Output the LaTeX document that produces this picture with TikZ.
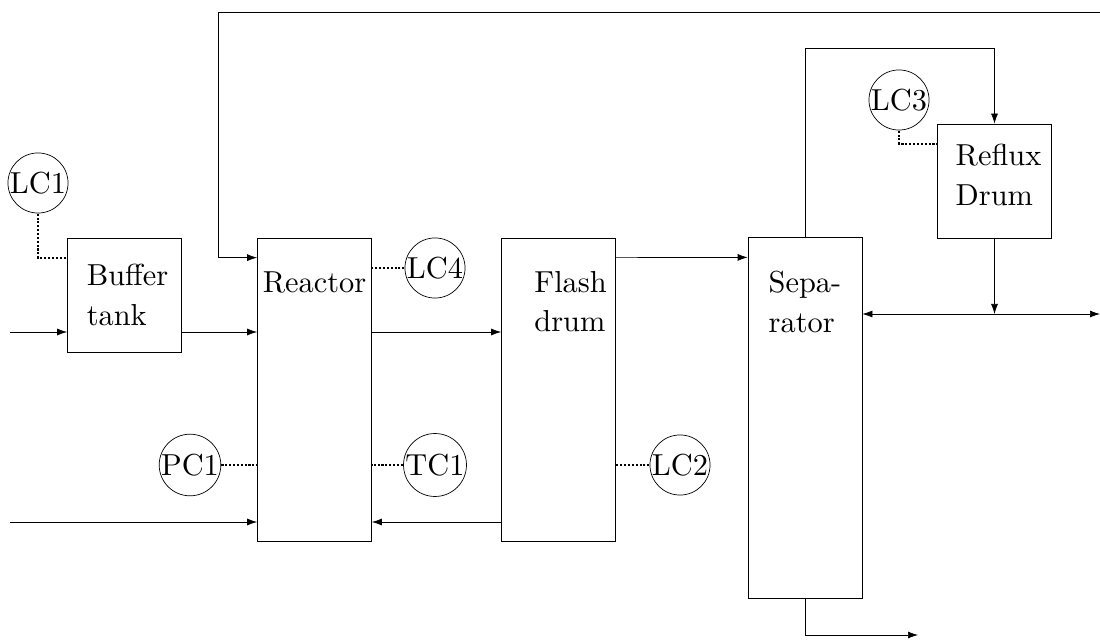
\documentclass[tikz,border=0pt]{standalone}
\usepackage{tikz}
\usetikzlibrary{arrows.meta,positioning,calc}

\begin{document}
\begin{tikzpicture}[
    >={Latex[length=2mm,width=1.4mm]},
    unit/.style={rectangle, draw=black, minimum width=2.28cm, minimum height=2.28cm},
    tall/.style={unit, minimum height=6.06cm},
    unittext/.style={align=left, scale=1.728},
    ctrl/.style={circle, draw=black, inner sep=0pt, scale=1.728},
    flow/.style={->},
    signal/.style={densely dotted, very thick}
]

\useasboundingbox (0,0) rectangle (22,-12.8);

% Units
\node[unit] (buffer) at (2.49,-5.9) {};
\node[tall] (reactor) at (6.29,-7.79) {};
\node[tall] (flash) at (11.17,-7.79) {};
\node[unit, minimum height=7.21cm] (separator) at (16.1,-8.36) {};
\node[unit] (reflux) at (19.89,-3.62) {};

% Unit texts
\node[unittext] (buffertext) at ([xshift=0.06cm]buffer.center) {Buffer\\[1pt]tank};
\node[unittext] (refluxtext) at ([xshift=0.08cm,yshift=0.12cm]reflux.center) {Reflux\\[1pt]Drum};
\node[unittext, below=0.46cm of reactor.north] (reactortext) {Reactor};
\node[unittext, below=0.46cm of flash.north, xshift=0.14cm] (flashtext) {Flash\\[1pt]drum};
\node[unittext, below=0.46cm of separator.north] (separatortext) {Sepa-\\[1pt]rator};

% Controllers
\node[ctrl] (lc1) at (0.76,-3.66) {LC1};
\node[ctrl] (lc4) at (8.7,-5.36) {LC4};
\node[ctrl] (pc1) at (3.8,-9.3) {PC1};
\node[ctrl] (tc1) at (8.7,-9.3) {TC1};
\node[ctrl] (lc2) at (13.6,-9.3) {LC2};
\node[ctrl] (lc3) at (17.98,-2.0) {LC3};

% Stream ends
\coordinate (feedA) at (0.2,-6.64);
\coordinate (feedB) at (0.2,-10.44);
\coordinate (recycle) at (22,-0.24);
\coordinate (product) at (22,-6.28);
\coordinate (bottoms) at (18.36,-12.7);

% Streams
\draw[flow] (feedA) -- (feedA -| buffer.west);
\draw[flow] (feedA -| buffer.east) -- (feedA -| reactor.west);
\draw[flow] (feedA -| reactor.east) -- (feedA -| flash.west);
\draw[flow] (feedB) -- (feedB -| reactor.west);
\draw[flow] (feedB -| flash.west) -- (feedB -| reactor.east);
\draw[flow] (recycle) -- (4.36,-0.24) |- ($(reactor.north west)+(0,-0.4)$);
\draw[flow] ($(flash.north east)+(0,-0.4)$) -- ($(separator.north west)+(0,-0.4)$);
\draw[flow] (separator.north) -- ++(0,3.78) -| (reflux.north);
\draw[flow] (reflux.south) -- (reflux.south |- product);
\draw[<->] (product -| separator.east) -- (product);
\draw[flow] (separator.south) |- (bottoms);

% Signals
\draw[signal] (lc1.south) |- ($(buffer.north west)+(0,-0.4)$);
\draw[signal] (lc4.west) -- (lc4.west -| reactor.east);
\draw[signal] (pc1.east) -- (pc1.east -| reactor.west);
\draw[signal] (tc1.west) -- (tc1.west -| reactor.east);
\draw[signal] (lc2.west) -- (lc2.west -| flash.east);
\draw[signal] (lc3.south) |- ($(reflux.north west)+(0,-0.4)$);

\end{tikzpicture}
\end{document}
